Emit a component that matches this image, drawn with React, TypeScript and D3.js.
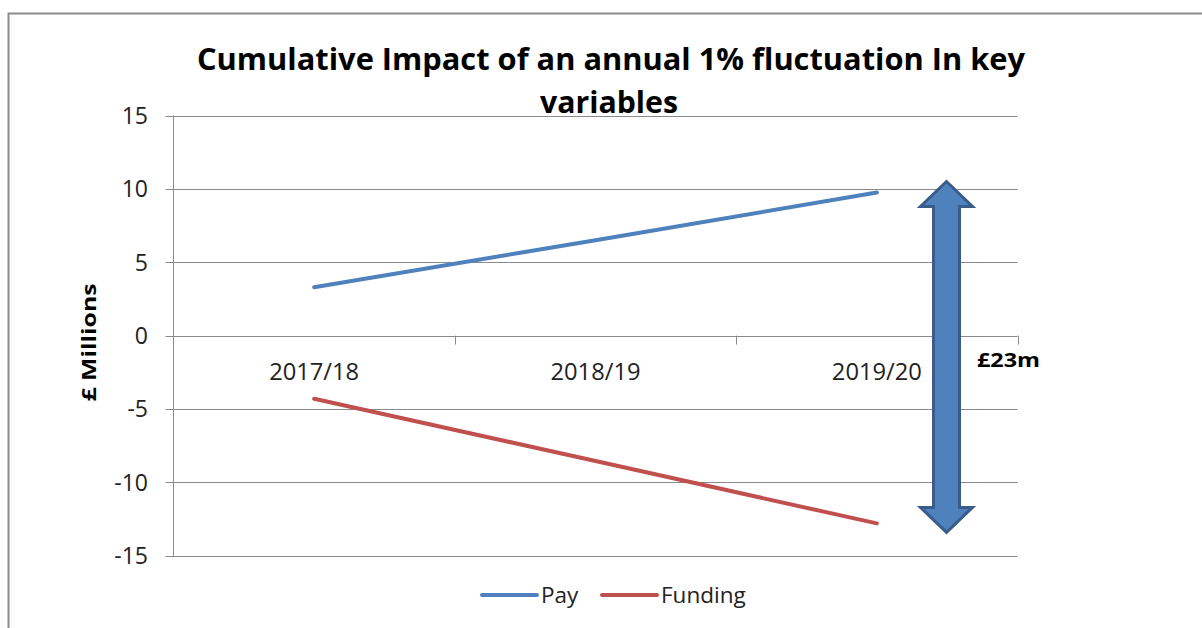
import React from "react";
import * as d3 from "d3";

const categories = ["2017/18", "2018/19", "2019/20"];
const payValues = [3.3, 6.5, 9.75];
const fundingValues = [-4.3, -8.55, -12.8];
const yTicks = [-15, -10, -5, 0, 5, 10, 15];
const seriesNames = ["Pay", "Funding"];
const seriesColors = ["#4F81BD", "#C0504D"];
const titleLines = ["Cumulative Impact of an annual 1% fluctuation In key", "variables"];
const gapLabel = "£23m";
const yAxisTitle = "£ Millions";

const W = 1202;
const H = 628;
const left = 173.5;
const right = 1017.5;
const top = 115.5;
const bottom = 555.7;
const FONT = "'Open Sans', 'Noto Sans', sans-serif";

export default function App() {
  const x = d3.scaleBand<string>().domain(categories).range([left, right]).paddingInner(0).paddingOuter(0);
  const y = d3.scaleLinear().domain([-15, 15]).range([bottom, top]);
  const cx = (c: string) => (x(c) as number) + x.bandwidth() / 2;
  const line = d3
    .line<number>()
    .x((_, i) => cx(categories[i]))
    .y((d) => y(d));
  const series = [payValues, fundingValues];

  const last = categories.length - 1;
  const aTop = y(payValues[last]) - 11;
  const aBot = y(fundingValues[last]) + 9;
  const ax = right - 71;
  const shaftHalf = 13;
  const headHalf = 26;
  const headLen = 25;
  const arrowPath = [
    [ax, aTop],
    [ax + headHalf, aTop + headLen],
    [ax + shaftHalf, aTop + headLen],
    [ax + shaftHalf, aBot - headLen],
    [ax + headHalf, aBot - headLen],
    [ax, aBot],
    [ax - headHalf, aBot - headLen],
    [ax - shaftHalf, aBot - headLen],
    [ax - shaftHalf, aTop + headLen],
    [ax - headHalf, aTop + headLen],
  ];
  const arrowD = "M" + arrowPath.map((p) => p.join(",")).join("L") + "Z";

  return (
    <svg
      width={W}
      height={H}
      style={{ position: "absolute", left: 0, top: 0, background: "#fff" }}
      fontFamily={FONT}
    >
      <rect x={0} y={0} width={W} height={H} fill="#fff" />
      <path d={`M8.5,${H + 2}V13.5H${W + 2}`} fill="none" stroke="#8c8c8c" strokeWidth={2} />

      <text x={611} y={69.5} textAnchor="middle" fontSize={31} fontWeight="bold" fill="#000" textLength={828} lengthAdjust="spacingAndGlyphs">
        {titleLines[0]}
      </text>
      <text x={609} y={113} textAnchor="middle" fontSize={31} fontWeight="bold" fill="#000" textLength={138} lengthAdjust="spacingAndGlyphs">
        {titleLines[1]}
      </text>

      {yTicks.map((t) => (
        <g key={t}>
          <line x1={left - 8} x2={right} y1={Math.round(y(t)) + 0.5} y2={Math.round(y(t)) + 0.5} stroke="#8a8a8a" strokeWidth={1} />
          <text x={148} y={y(t) + 8.5} textAnchor="end" fontSize={23} fill="#222">
            {t}
          </text>
        </g>
      ))}
      <line x1={left} x2={left} y1={top} y2={bottom} stroke="#8a8a8a" strokeWidth={1} />
      {categories.map((c) => {
        const xr = (x(c) as number) + x.bandwidth();
        return <line key={c} x1={Math.round(xr) + 0.5} x2={Math.round(xr) + 0.5} y1={y(0)} y2={y(0) + 9} stroke="#8a8a8a" strokeWidth={1} />;
      })}
      {categories.map((c) => (
        <text key={c} x={cx(c)} y={379.5} textAnchor="middle" fontSize={23} fill="#222" textLength={90} lengthAdjust="spacingAndGlyphs">
          {c}
        </text>
      ))}

      <text transform={`translate(96,342.5) rotate(-90)`} textAnchor="middle" fontSize={19} fontWeight="bold" fill="#000" textLength={118} lengthAdjust="spacingAndGlyphs">
        {yAxisTitle}
      </text>

      {series.map((s, i) => (
        <path key={i} d={line(s) || ""} fill="none" stroke={seriesColors[i]} strokeWidth={4} strokeLinecap="round" />
      ))}

      <path d={arrowD} fill="#4F81BD" stroke="#385D8A" strokeWidth={3} strokeLinejoin="miter" />
      <text x={977} y={367} fontSize={20} fontWeight="bold" fill="#000" textLength={63} lengthAdjust="spacingAndGlyphs">
        {gapLabel}
      </text>

      {seriesNames.map((n, i) => {
        const lx = [482, 602][i];
        return (
          <g key={n}>
            <line x1={lx} x2={lx + 55} y1={595} y2={595} stroke={seriesColors[i]} strokeWidth={4} strokeLinecap="round" />
            <text x={lx + 59} y={603} fontSize={22.5} fill="#222">
              {n}
            </text>
          </g>
        );
      })}
    </svg>
  );
}
